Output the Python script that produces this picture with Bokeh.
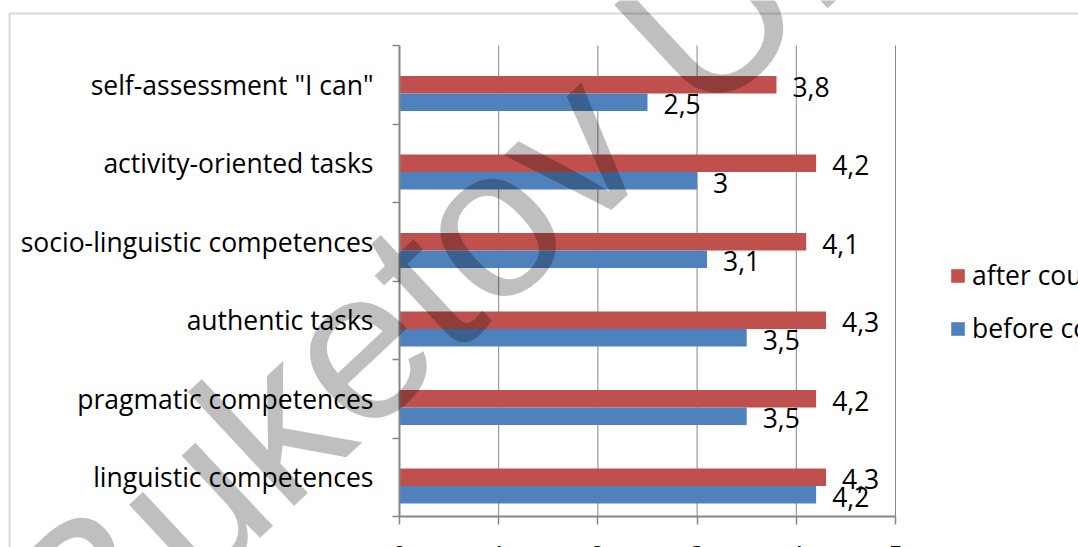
from bokeh.plotting import figure
from bokeh.models import (Range1d, FixedTicker, LinearAxis, Legend, LegendItem,
                          Label, BoxAnnotation)
from bokeh.core.properties import value
from bokeh.embed import file_html
from bokeh.resources import INLINE

# Survey results: mean scores before and after the course
categories = [
    "linguistic competences",
    "pragmatic competences",
    "authentic tasks",
    "socio-linguistic competences",
    "activity-oriented tasks",
    'self-assessment "I can"',
]
before_course = [4.2, 3.5, 3.5, 3.1, 3.0, 2.5]
after_course = [4.3, 4.2, 4.3, 4.1, 4.2, 3.8]
x_ticks = [0, 1, 2, 3, 4, 5]
series_names = ["after course", "before course"]
watermark_text = "Buketov University"

FONT = "Open Sans"
RED = "#C0504D"
BLUE = "#4F81BD"
GRAY = "#868686"
LABEL_SIZE = "26.5px"

W, H = 1078, 547
# pixel box of the plotting area inside the canvas
PX_LEFT, PX_RIGHT, PX_TOP, PX_BOTTOM = 399, 895, 45, 516


def fmt(v):
    return f"{v:g}".replace(".", ",")


n = len(categories)
idx = list(range(n))
bar_h = 0.222
after_y = [i for i in idx]
before_y = [i - bar_h for i in idx]

# the frame fills the whole canvas; ranges are widened so that the value
# axis 0..5 and the category band -0.5..n-0.5 land on the plotting area
x0, x1 = x_ticks[0], x_ticks[-1]
xs = (PX_RIGHT - PX_LEFT) / (x1 - x0)
ys = (PX_BOTTOM - PX_TOP) / n
x_range = Range1d(x0 - PX_LEFT / xs, x1 + (W - PX_RIGHT) / xs)
y_range = Range1d(-0.5 - (H - PX_BOTTOM) / ys, n - 0.5 + PX_TOP / ys)

p = figure(
    width=W, height=H, x_range=x_range, y_range=y_range,
    x_axis_type=None, y_axis_type=None,
    output_backend="svg", toolbar_location=None,
    min_border=0, outline_line_color=None,
    background_fill_color="white", border_fill_color="white",
)
p.xgrid.visible = False
p.ygrid.visible = False

# chart-area border
p.add_layout(BoxAnnotation(left=9, right=W + 40, top=H - 13, bottom=-60,
                           left_units="screen", right_units="screen",
                           top_units="screen", bottom_units="screen",
                           fill_alpha=0, fill_color=None,
                           line_color=GRAY, line_width=2, level="underlay"))

# vertical gridlines over the category band
p.segment(x0=x_ticks[1:], x1=x_ticks[1:], y0=-0.5, y1=n - 0.5,
          line_color=GRAY, line_width=1)

# category axis: labels at the centres, tick marks at the boundaries
yaxis = LinearAxis(
    fixed_location=x0, bounds=(-0.5, n - 0.5),
    ticker=FixedTicker(ticks=idx, minor_ticks=[i - 0.5 for i in range(n + 1)]),
    major_label_overrides={i: c for i, c in enumerate(categories)},
    major_tick_out=0, major_tick_in=0,
    minor_tick_out=7, minor_tick_in=0,
    minor_tick_line_color=GRAY, minor_tick_line_width=1.5,
    axis_line_color=GRAY, axis_line_width=2,
    major_label_standoff=19,
    major_label_text_font=FONT, major_label_text_font_size=LABEL_SIZE,
    major_label_text_color="black",
)
p.add_layout(yaxis, "left")

xaxis = LinearAxis(
    fixed_location=-0.5, bounds=(x0, x1),
    ticker=FixedTicker(ticks=x_ticks),
    major_tick_out=8, major_tick_in=0,
    major_tick_line_color=GRAY, major_tick_line_width=1.5,
    minor_tick_out=0, minor_tick_in=0,
    axis_line_color=GRAY, axis_line_width=2,
    major_label_standoff=21,
    major_label_text_font=FONT, major_label_text_font_size=LABEL_SIZE,
    major_label_text_color="black",
)
p.add_layout(xaxis, "below")

r_after = p.hbar(y=after_y, right=after_course, left=0, height=bar_h,
                 fill_color=RED, line_color=None)
r_before = p.hbar(y=before_y, right=before_course, left=0, height=bar_h,
                  fill_color=BLUE, line_color=None)

# value labels at the bar ends
p.text(x=after_course, y=after_y, text=[fmt(v) for v in after_course],
       x_offset=16, y_offset=2, text_baseline="middle", text_align="left",
       text_font=value(FONT), text_font_size=LABEL_SIZE, text_color="black")
p.text(x=before_course, y=before_y, text=[fmt(v) for v in before_course],
       x_offset=16, y_offset=2, text_baseline="middle", text_align="left",
       text_font=value(FONT), text_font_size=LABEL_SIZE, text_color="black")

legend = Legend(
    items=[LegendItem(label=series_names[0], renderers=[r_after]),
           LegendItem(label=series_names[1], renderers=[r_before])],
    location=(949, H - 346), orientation="vertical",
    glyph_width=17, glyph_height=17, label_height=36, label_standoff=6,
    spacing=17, padding=0, margin=0,
    border_line_color=None, background_fill_alpha=0,
    label_text_font=FONT, label_text_font_size=LABEL_SIZE, label_text_color="black",
)
p.add_layout(legend)

# diagonal watermark
p.add_layout(Label(x=40, y=H - 640, x_units="screen", y_units="screen",
                   text=watermark_text, angle=43, angle_units="deg",
                   text_align="left", text_baseline="alphabetic",
                   text_font="Liberation Sans", text_font_size="215px",
                   text_color="black", text_alpha=0.25, level="overlay"))

open("out.html", "w").write(file_html(p, INLINE))
